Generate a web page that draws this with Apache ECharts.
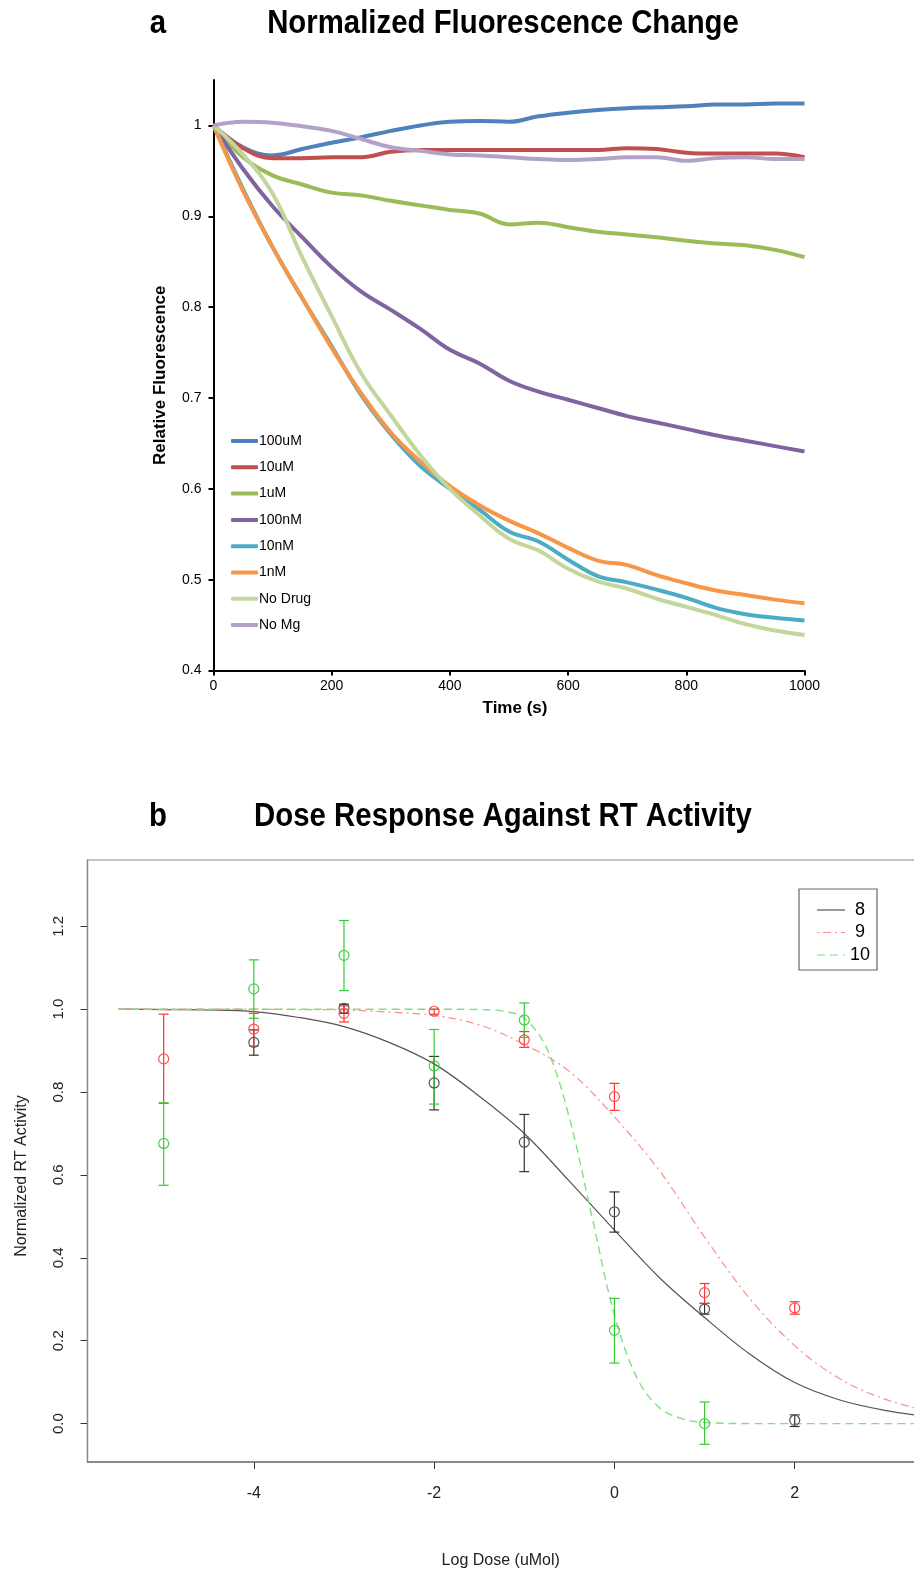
<!DOCTYPE html>
<html><head><meta charset="utf-8">
<script src="https://cdn.jsdelivr.net/npm/echarts@6/dist/echarts.min.js"></script>
<style>html,body{margin:0;padding:0;background:#fff}#c{width:914px;height:1572px}</style>
</head><body><div id="c"></div>
<script>
// ---------- Panel a data ----------
const times = [0,50,100,150,200,250,300,350,400,450,500,550,600,650,700,750,800,850,900,950,1000];
const s100uM = [1.0,0.976,0.967,0.974,0.981,0.987,0.994,1.0,1.004,1.005,1.004,1.010,1.014,1.017,1.019,1.020,1.021,1.023,1.023,1.024,1.024];
const s10uM  = [1.0,0.975,0.964,0.964,0.965,0.965,0.971,0.973,0.973,0.973,0.973,0.973,0.973,0.973,0.975,0.974,0.970,0.969,0.969,0.969,0.965];
const s1uM   = [1.0,0.965,0.945,0.935,0.926,0.923,0.917,0.912,0.907,0.903,0.891,0.893,0.888,0.883,0.880,0.877,0.873,0.870,0.868,0.863,0.855];
const s100nM = [1.0,0.952,0.911,0.877,0.844,0.817,0.797,0.776,0.753,0.738,0.719,0.707,0.698,0.689,0.680,0.673,0.666,0.659,0.653,0.647,0.641];
const s10nM  = [1.0,0.930,0.866,0.810,0.757,0.703,0.660,0.625,0.600,0.577,0.553,0.542,0.522,0.504,0.497,0.489,0.480,0.469,0.462,0.458,0.455];
const s1nM   = [1.0,0.928,0.866,0.810,0.755,0.705,0.662,0.630,0.603,0.582,0.565,0.551,0.535,0.521,0.516,0.505,0.496,0.488,0.483,0.478,0.474];
const sNoDrug= [1.0,0.968,0.925,0.855,0.790,0.727,0.681,0.637,0.600,0.571,0.545,0.532,0.512,0.498,0.490,0.479,0.470,0.461,0.451,0.444,0.439];
const sNoMg  = [1.0,1.004,1.003,0.999,0.994,0.985,0.976,0.972,0.968,0.967,0.965,0.963,0.962,0.963,0.965,0.965,0.961,0.964,0.965,0.963,0.963];
const seriesNamesA = ['100uM','10uM','1uM','100nM','10nM','1nM','No Drug','No Mg'];
const seriesValsA = [s100uM,s10uM,s1uM,s100nM,s10nM,s1nM,sNoDrug,sNoMg];
const colorsA = ['#4F81BD','#C0504D','#9BBB59','#8064A2','#4BACC6','#F79646','#C3D69B','#B3A2C7'];
const yTicksA = [0.4,0.5,0.6,0.7,0.8,0.9,1.0];

// ---------- Panel b data ----------
const dose8 = [-4,-3,-2,-1,0,1,2];
const mean8 = [0.920,1.002,0.822,0.679,0.511,0.276,0.008];
const lo8   = [0.889,0.990,0.757,0.608,0.462,0.264,-0.007];
const hi8   = [0.950,1.012,0.886,0.746,0.559,0.290,0.021];
const dose9 = [-5,-4,-3,-2,-1,0,1,2];
const mean9 = [0.880,0.952,0.990,0.995,0.926,0.789,0.316,0.279];
const lo9   = [0.773,0.911,0.969,0.988,0.908,0.756,0.290,0.264];
const hi9   = [0.988,0.990,1.008,1.000,0.946,0.821,0.338,0.294];
const dose10 = [-5,-4,-3,-2,-1,0,1];
const mean10 = [0.676,1.049,1.130,0.863,0.974,0.225,0.000];
const lo10   = [0.575,0.978,1.045,0.771,0.932,0.146,-0.050];
const hi10   = [0.774,1.119,1.214,0.951,1.015,0.302,0.052];
const curveX89 = [-5.5,-5,-4.5,-4,-3.5,-3,-2.5,-2,-1.5,-1,-0.5,0,0.5,1,1.5,2,2.5,3,3.5];
const curve8 = [1.0,0.999,0.998,0.994,0.980,0.958,0.920,0.868,0.790,0.700,0.585,0.467,0.352,0.256,0.168,0.099,0.057,0.032,0.016];
const curve9 = [1.0,1.0,1.0,1.0,0.999,0.998,0.993,0.985,0.962,0.915,0.850,0.740,0.610,0.450,0.302,0.188,0.108,0.059,0.029];
const curveX10 = [-5.5,-5,-4,-3,-2,-1.5,-1.25,-1,-0.75,-0.5,-0.25,0,0.25,0.5,0.75,1,1.5,2,3,3.5];
const curve10  = [1,1,1,1,1,0.999,0.996,0.978,0.905,0.738,0.500,0.262,0.110,0.038,0.012,0.003,0,0,0,0];
const xTicksB = [-4,-2,0,2];
const yTicksB = [0,0.2,0.4,0.6,0.8,1.0,1.2];
const namesB = ['8','9','10'];

const FONT = "'Liberation Sans', Arial, sans-serif";
const zip = (xs, ys) => xs.map((x, i) => [x, ys[i]]);
const zip3 = (xs, a, b) => xs.map((x, i) => [x, a[i], b[i]]);

const chart = echarts.init(document.getElementById('c'), null, {renderer: 'canvas'});

function errBar(color) {
  return function (params, api) {
    const x = api.value(0);
    const p1 = api.coord([x, api.value(1)]);
    const p2 = api.coord([x, api.value(2)]);
    const w = 5;
    const st = {stroke: color, lineWidth: 1.2};
    return {type: 'group', children: [
      {type: 'line', shape: {x1: p1[0], y1: p1[1], x2: p2[0], y2: p2[1]}, style: st},
      {type: 'line', shape: {x1: p1[0]-w, y1: p1[1], x2: p1[0]+w, y2: p1[1]}, style: st},
      {type: 'line', shape: {x1: p2[0]-w, y1: p2[1], x2: p2[0]+w, y2: p2[1]}, style: st}
    ]};
  };
}

const seriesA = seriesNamesA.map((n, i) => ({
  name: n, type: 'line', xAxisIndex: 0, yAxisIndex: 0,
  data: zip(times, seriesValsA[i]), smooth: 0.4, symbol: 'none', showSymbol: false,
  lineStyle: {color: colorsA[i], width: 4}, itemStyle: {color: colorsA[i]}, z: 2 + i
}));

const colB = {line: ['#555555', '#FF8C8C', '#7FE07F'], pt: ['#555555', '#FF5050', '#44D044'], err: ['#333333', '#FF3030', '#33CC33']};
const dashB = [null, [2, 4, 8, 4], [8, 5]];
const curveSeries = [
  {name: '8', data: zip(curveX89, curve8), lineStyle: {color: colB.line[0], width: 1.2, type: 'solid'}},
  {name: '9', data: zip(curveX89, curve9), lineStyle: {color: colB.line[1], width: 1.2, type: dashB[1]}},
  {name: '10', data: zip(curveX10, curve10), lineStyle: {color: colB.line[2], width: 1.4, type: dashB[2]}}
].map(s => Object.assign({type: 'line', xAxisIndex: 1, yAxisIndex: 1, smooth: 0.35, symbol: 'none', showSymbol: false, itemStyle: {color: s.lineStyle.color}, z: 2}, s));

const ptSets = [[dose8, mean8, lo8, hi8], [dose9, mean9, lo9, hi9], [dose10, mean10, lo10, hi10]];
const errSeries = ptSets.map((p, i) => ({
  name: 'err' + namesB[i], type: 'custom', xAxisIndex: 1, yAxisIndex: 1,
  data: zip3(p[0], p[2], p[3]), renderItem: errBar(colB.err[i]), encode: {x: 0, y: [1, 2]}, z: 3, silent: true
}));
const ptSeries = ptSets.map((p, i) => ({
  name: 'pt' + namesB[i], type: 'scatter', xAxisIndex: 1, yAxisIndex: 1,
  data: zip(p[0], p[1]), symbol: 'circle', symbolSize: 10,
  itemStyle: {color: 'rgba(0,0,0,0)', borderColor: colB.pt[i], borderWidth: 1.2, opacity: 1}, z: 4
}));

const titleText = (txt, x, y) => ({
  type: 'text', x: x, y: y, scaleX: 0.89, scaleY: 1,
  style: {text: txt, font: "bold 33px 'Liberation Sans', Arial, sans-serif", fill: '#000', textAlign: 'center', textVerticalAlign: 'middle'}
});

// frame of panel b (its right side lies beyond the page edge, as in the reference)
const frameB = {type: 'rect', shape: {x: 87.5, y: 860, width: 900, height: 602}, style: {fill: 'none', stroke: '#888', lineWidth: 1.2}, z: 1, silent: true};
// legend of panel b (box, line samples, labels)
const legB = [{type: 'rect', shape: {x: 799, y: 889, width: 78, height: 81}, style: {fill: '#fff', stroke: '#666', lineWidth: 1.2}, z: 10}];
const legRowY = [910, 932.5, 955];
namesB.forEach((n, i) => {
  legB.push({type: 'line', shape: {x1: 817, y1: legRowY[i], x2: 845, y2: legRowY[i]},
    style: {stroke: colB.line[i], lineWidth: 1.2, lineDash: dashB[i] || null}, z: 11});
  legB.push({type: 'text', x: 860, y: legRowY[i],
    style: {text: n, font: "18px 'Liberation Sans', Arial, sans-serif", fill: '#000', textAlign: 'center', textVerticalAlign: 'middle'}, z: 11});
});

chart.setOption({
  animation: false,
  backgroundColor: '#fff',
  textStyle: {fontFamily: FONT},
  graphic: [
    titleText('a', 158, 24),
    titleText('Normalized Fluorescence Change', 503, 24),
    titleText('b', 158, 817),
    titleText('Dose Response Against RT Activity', 503, 817),
    frameB
  ].concat(legB),
  legend: [
    {data: seriesNamesA, orient: 'vertical', left: 231, top: 434, icon: 'roundRect', itemWidth: 27, itemHeight: 4, itemGap: 12.3,
     textStyle: {fontSize: 14, color: '#000', fontFamily: FONT, padding: [0, 0, 0, -4]}, padding: 0}
  ],
  grid: [
    {left: 213.5, top: 80, right: 109.5, bottom: 901.5},
    {left: 87.5, top: 860, right: 0, bottom: 110}
  ],
  xAxis: [
    {type: 'value', gridIndex: 0, min: 0, max: 1000, interval: 200,
     axisLine: {show: true, lineStyle: {color: '#000', width: 2}},
     axisTick: {show: true, inside: false, length: 5, lineStyle: {color: '#000', width: 2}},
     axisLabel: {fontSize: 14, color: '#000', margin: 9, fontFamily: FONT, formatter: v => String(v)},
     splitLine: {show: false},
     name: 'Time (s)', nameLocation: 'middle', nameGap: 29,
     nameTextStyle: {fontSize: 17, fontWeight: 'bold', color: '#000', fontFamily: FONT, padding: [0, 0, 0, 12]}},
    {type: 'value', gridIndex: 1, min: -5.845, max: 3.323,
     axisLine: {show: true, onZero: false, lineStyle: {color: '#666', width: 1.5}},
     axisTick: {show: true, customValues: xTicksB, length: 7, lineStyle: {color: '#333', width: 1}},
     axisLabel: {customValues: xTicksB, fontSize: 16, color: '#222', margin: 24, fontFamily: FONT},
     splitLine: {show: false},
     name: 'Log Dose (uMol)', nameLocation: 'middle', nameGap: 91,
     nameTextStyle: {fontSize: 16, color: '#222', fontFamily: FONT}}
  ],
  yAxis: [
    {type: 'value', gridIndex: 0, min: 0.4, max: 1.05,
     axisLine: {show: true, lineStyle: {color: '#000', width: 2}},
     axisTick: {show: true, customValues: yTicksA, length: 5, lineStyle: {color: '#000', width: 2}},
     axisLabel: {customValues: yTicksA, fontSize: 14, color: '#000', margin: 12, fontFamily: FONT,
                 formatter: v => String(+(+v).toFixed(1))},
     splitLine: {show: false},
     name: 'Relative Fluorescence', nameLocation: 'middle', nameGap: 45,
     nameTextStyle: {fontSize: 17, fontWeight: 'bold', color: '#000', fontFamily: FONT}},
    {type: 'value', gridIndex: 1, min: -0.0927, max: 1.360,
     axisLine: {show: true, onZero: false, lineStyle: {color: '#555', width: 1.2}},
     axisTick: {show: true, customValues: yTicksB, length: 7, lineStyle: {color: '#333', width: 1}},
     axisLabel: {customValues: yTicksB, rotate: 90, fontSize: 15, color: '#222', margin: 21, fontFamily: FONT,
                 formatter: v => (+v).toFixed(1)},
     splitLine: {show: false},
     name: 'Normalized RT Activity', nameLocation: 'middle', nameGap: 58,
     nameTextStyle: {fontSize: 16, color: '#222', fontFamily: FONT, padding: [0, 30, 0, 0]}}
  ],
  series: [].concat(seriesA, curveSeries, errSeries, ptSeries)
});
</script>
</body></html>
